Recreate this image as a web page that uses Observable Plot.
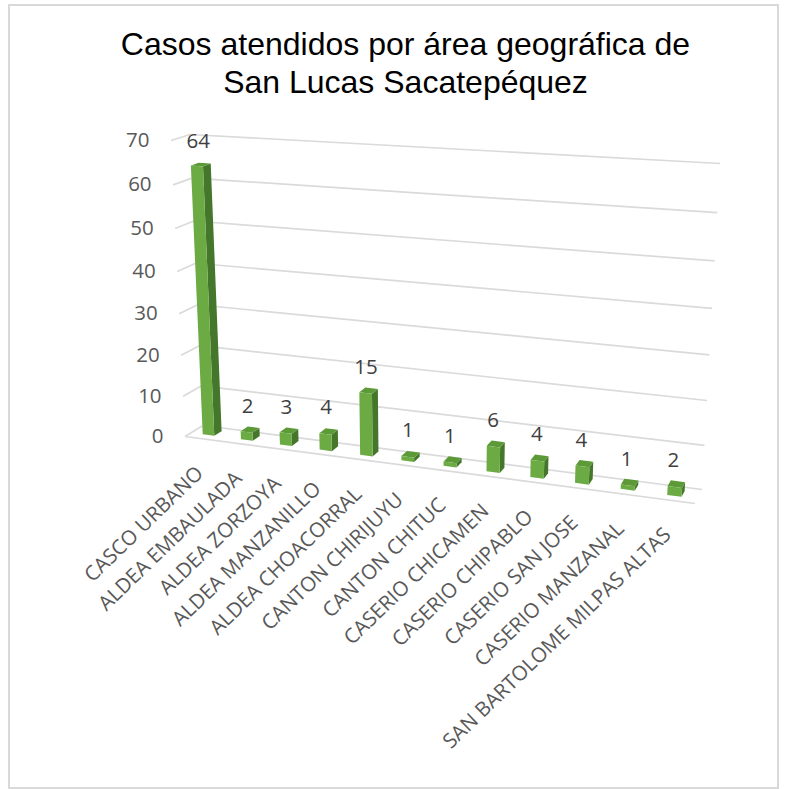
<!DOCTYPE html>
<html><head><meta charset="utf-8">
<script src="https://cdn.jsdelivr.net/npm/d3@7"></script>
<script src="https://cdn.jsdelivr.net/npm/@observablehq/plot@0.6"></script>
<style>
html,body{margin:0;padding:0;background:#fff}
#box{position:absolute;left:8px;top:4px;width:767px;height:781px;border:2px solid #d9d9d9}
#title{position:absolute;left:0;top:19px;width:791px;text-align:center;font:32px/38px "Liberation Sans",Arial,sans-serif;color:#000}
#chart{position:absolute;left:2px;top:106px}
#chart svg{display:block;overflow:visible}
</style></head><body>
<div id="box"><div id="title">Casos atendidos por área geográfica de<br>San Lucas Sacatepéquez</div><div id="chart"></div></div>
<script>
const categories = ["CASCO URBANO","ALDEA EMBAULADA","ALDEA ZORZOYA","ALDEA MANZANILLO","ALDEA CHOACORRAL","CANTON CHIRIJUYU","CANTON CHITUC","CASERIO CHICAMEN","CASERIO CHIPABLO","CASERIO SAN JOSE","CASERIO MANZANAL","SAN BARTOLOME MILPAS ALTAS"];
const values = [64,2,3,4,15,1,1,6,4,4,1,2];
const yTicks = [0,10,20,30,40,50,60,70];
const rows = categories.map((name,i)=>({name,value:values[i]}));

// svg origin on the page
const ox = 12, oy = 112;
const W = 760, H = 665, mL = 160, mR = 50, mT = 30, mB = 340;

// perspective of the 3-D box: corners (page pixels) of the front and back planes
const frontQuad = [[185,436],[695,503],[713,172],[171,140]];
const backQuad  = [[203,425],[702,489],[720,163],[190,134]];
function homography(q){
  const [[x0,y0],[x1,y1],[x2,y2],[x3,y3]] = q;
  const dx1=x1-x2,dx2=x3-x2,sx=x0-x1+x2-x3,dy1=y1-y2,dy2=y3-y2,sy=y0-y1+y2-y3;
  const den=dx1*dy2-dx2*dy1,g=(sx*dy2-dx2*sy)/den,h=(dx1*sy-sx*dy1)/den;
  const a=x1-x0+g*x1,b=x3-x0+h*x3,d=y1-y0+g*y1,e=y3-y0+h*y3;
  return (u,v)=>{const w=g*u+h*v+1;return [(a*u+b*v+x0)/w,(d*u+e*v+y0)/w];};
}
const hF = homography(frontQuad), hB = homography(backQuad);
function warp(px,py,z){
  const u=(px-mL)/(W-mL-mR), v=(H-mB-py)/(H-mB-mT);
  const f=hF(u,v), b=hB(u,v);
  return [f[0]+(b[0]-f[0])*z-ox, f[1]+(b[1]-f[1])*z-oy];
}
const NS="http://www.w3.org/2000/svg";
function poly(parent,pts,fill){
  const p=document.createElementNS(NS,"polygon");
  p.setAttribute("points",pts.map(q=>q.map(n=>n.toFixed(2)).join(",")).join(" "));
  p.setAttribute("fill",fill);parent.appendChild(p);
}
const zFront=0.30, zBack=0.72;
function renderBars(index,scales,vals,dims,ctx,next){
  const g=next(index,scales,vals,dims,ctx);
  for(const r of [...g.querySelectorAll("rect")]){
    const x=+r.getAttribute("x"),y=+r.getAttribute("y"),w=+r.getAttribute("width"),h=+r.getAttribute("height");
    const a=warp(x,y+h,zFront),b=warp(x+w,y+h,zFront),c=warp(x+w,y,zFront),d=warp(x,y,zFront);
    const b2=warp(x+w,y+h,zBack),c2=warp(x+w,y,zBack),d2=warp(x,y,zBack);
    const G=document.createElementNS(NS,"g");
    poly(G,[b,b2,c2,c],"#44772b");
    poly(G,[d,c,c2,d2],"#5c9a37");
    poly(G,[a,b,c,d],"#6cab43");
    r.replaceWith(G);
  }
  return g;
}
function renderGrid(index,scales,vals,dims,ctx,next){
  const g=next(index,scales,vals,dims,ctx);
  for(const l of [...g.querySelectorAll("line")]){
    const y=+l.getAttribute("y1");
    const a=warp(mL,y,0),b=warp(mL,y,1),e=warp(W-mR,y,1);
    const back=l.cloneNode();
    l.setAttribute("x1",a[0]);l.setAttribute("y1",a[1]);l.setAttribute("x2",b[0]);l.setAttribute("y2",b[1]);
    back.setAttribute("x1",b[0]);back.setAttribute("y1",b[1]);back.setAttribute("x2",e[0]);back.setAttribute("y2",e[1]);
    l.after(back);
  }
  return g;
}
function renderFloor(index,scales,vals,dims,ctx,next){
  const g=next(index,scales,vals,dims,ctx);
  for(const l of g.querySelectorAll("line")){
    const y=+l.getAttribute("y1");
    const a=warp(mL,y,0),e=warp(W-mR,y,0);
    l.setAttribute("x1",a[0]);l.setAttribute("y1",a[1]);l.setAttribute("x2",e[0]);l.setAttribute("y2",e[1]);
  }
  return g;
}
const renderText=z=>function(index,scales,vals,dims,ctx,next){
  const g=next(index,scales,vals,dims,ctx);
  for(const t of g.querySelectorAll("text")){
    const tr=t.getAttribute("transform")||"";
    t.setAttribute("transform",tr.replace(/translate\(([^,]+),([^)]+)\)/,(m,x,y)=>{
      const p=warp(+x,+y,z);return `translate(${p[0]},${p[1]})`;
    }));
  }
  return g;
};
const chart = Plot.plot({
  width:W,height:H,marginLeft:mL,marginRight:mR,marginTop:mT,marginBottom:mB,
  style:{fontFamily:'"Open Sans",sans-serif',background:"transparent",overflow:"visible"},
  x:{type:"band",domain:categories,paddingInner:0.69,paddingOuter:0.24,label:null},
  y:{domain:[0,70],label:null},
  marks:[
    Plot.ruleY(yTicks,{stroke:"#dadada",strokeWidth:1.7,render:renderGrid}),
    Plot.ruleY([0],{stroke:"#dadada",strokeWidth:1.7,render:renderFloor}),
    Plot.barY(rows,{x:"name",y:"value",fill:"#6cab43",render:renderBars}),
    Plot.text(rows,{x:"name",y:"value",text:d=>String(d.value),dx:-3,dy:-24,fontSize:20.5,fill:"#404040",render:renderText(0.45)}),
    Plot.axisY(yTicks,{tickSize:0,tickPadding:22,fontSize:20.5,color:"#595959",label:null,textAnchor:"end",render:renderText(0)}),
    Plot.axisX({tickSize:0,tickPadding:32,tickRotate:-44,fontSize:20.4,color:"#595959",label:null,textAnchor:"end",lineAnchor:"middle",dx:-5,render:renderText(0)})
  ]
});
document.getElementById("chart").appendChild(chart);
</script>
</body></html>
